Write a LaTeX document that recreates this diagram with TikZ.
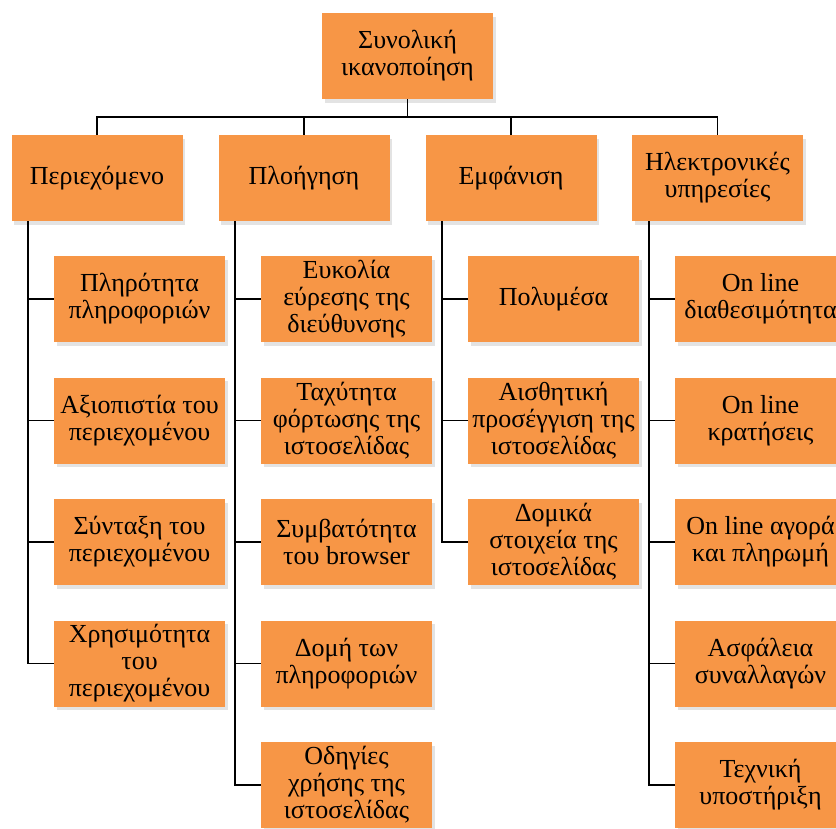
\documentclass[tikz,border=0pt]{standalone}
\usepackage{fontspec}
\setmainfont{Liberation Serif}
\newfontfamily\boxfont{Liberation Serif}
\usetikzlibrary{shadows}
\definecolor{boxorange}{HTML}{F79646}
\tikzset{
  box/.style={fill=boxorange, minimum width=171pt, minimum height=86pt, inner sep=0pt,
    align=center, font=\boxfont\fontsize{26}{27}\selectfont,
    drop shadow={opacity=0.22, shadow xshift=2.5pt, shadow yshift=-3.5pt}},
  link/.style={line width=1.8pt}
}
\begin{document}
\begin{tikzpicture}[x=1pt,y=-1pt]
	\useasboundingbox (0,0) rectangle (836,828);
	\clip (0,0) rectangle (836,828);
	% top
	\node[box] (root) at (407.5,56) {Συνολική\\ικανοποίηση};
	% first level
	\node[box] (p1) at (97,178) {Περιεχόμενο};
	\node[box] (p2) at (304,178) {Πλοήγηση};
	\node[box] (p3) at (511,178) {Εμφάνιση};
	\node[box] (p4) at (717.5,178) {Ηλεκτρονικές\\υπηρεσίες};
	% first column
	\node[box] (c11) at (139.5,299) {Πληρότητα\\πληροφοριών};
	\node[box] (c12) at (139.5,420.5) {Αξιοπιστία του\\περιεχομένου};
	\node[box] (c13) at (139.5,542) {Σύνταξη του\\περιεχομένου};
	\node[box] (c14) at (139.5,663.5) {Χρησιμότητα\\του\\περιεχομένου};
	% second column
	\node[box] (c21) at (346.5,299) {Ευκολία\\εύρεσης της\\διεύθυνσης};
	\node[box] (c22) at (346.5,420.5) {Ταχύτητα\\φόρτωσης της\\ιστοσελίδας};
	\node[box] (c23) at (346.5,542) {Συμβατότητα\\του browser};
	\node[box] (c24) at (346.5,663.5) {Δομή των\\πληροφοριών};
	\node[box] (c25) at (346.5,785) {Οδηγίες\\χρήσης της\\ιστοσελίδας};
	% third column
	\node[box] (c31) at (553.5,299) {Πολυμέσα};
	\node[box] (c32) at (553.5,420.5) {Αισθητική\\προσέγγιση της\\ιστοσελίδας};
	\node[box] (c33) at (553.5,542) {Δομικά\\στοιχεία της\\ιστοσελίδας};
	% fourth column
	\node[box] (c41) at (760.5,299) {On line\\διαθεσιμότητα};
	\node[box] (c42) at (760.5,420.5) {On line\\κρατήσεις};
	\node[box] (c43) at (760.5,542) {On line αγορά\\και πληρωμή};
	\node[box] (c44) at (760.5,663.5) {Ασφάλεια\\συναλλαγών};
	\node[box] (c45) at (760.5,785) {Τεχνική\\υποστήριξη};
	% bus
	\draw[link] (root.south) -- ++(0,18) coordinate (bus);
	\draw[link] (p1.north) |- (bus) -| (p4.north);
	\draw[link] (p2.north) -- (p2.north |- bus);
	\draw[link] (p3.north) -- (p3.north |- bus);
	% spines
	\coordinate (s1) at ([xshift=17pt]p1.south west);
	\coordinate (s2) at ([xshift=17pt]p2.south west);
	\coordinate (s3) at ([xshift=17pt]p3.south west);
	\coordinate (s4) at ([xshift=17pt]p4.south west);
	\draw[link] (s1) |- (c14.west);
	\draw[link] (s1 |- c11.west) -- (c11.west);
	\draw[link] (s1 |- c12.west) -- (c12.west);
	\draw[link] (s1 |- c13.west) -- (c13.west);
	\draw[link] (s2) |- (c25.west);
	\draw[link] (s2 |- c21.west) -- (c21.west);
	\draw[link] (s2 |- c22.west) -- (c22.west);
	\draw[link] (s2 |- c23.west) -- (c23.west);
	\draw[link] (s2 |- c24.west) -- (c24.west);
	\draw[link] (s3) |- (c33.west);
	\draw[link] (s3 |- c31.west) -- (c31.west);
	\draw[link] (s3 |- c32.west) -- (c32.west);
	\draw[link] (s4) |- (c45.west);
	\draw[link] (s4 |- c41.west) -- (c41.west);
	\draw[link] (s4 |- c42.west) -- (c42.west);
	\draw[link] (s4 |- c43.west) -- (c43.west);
	\draw[link] (s4 |- c44.west) -- (c44.west);
\end{tikzpicture}
\end{document}
